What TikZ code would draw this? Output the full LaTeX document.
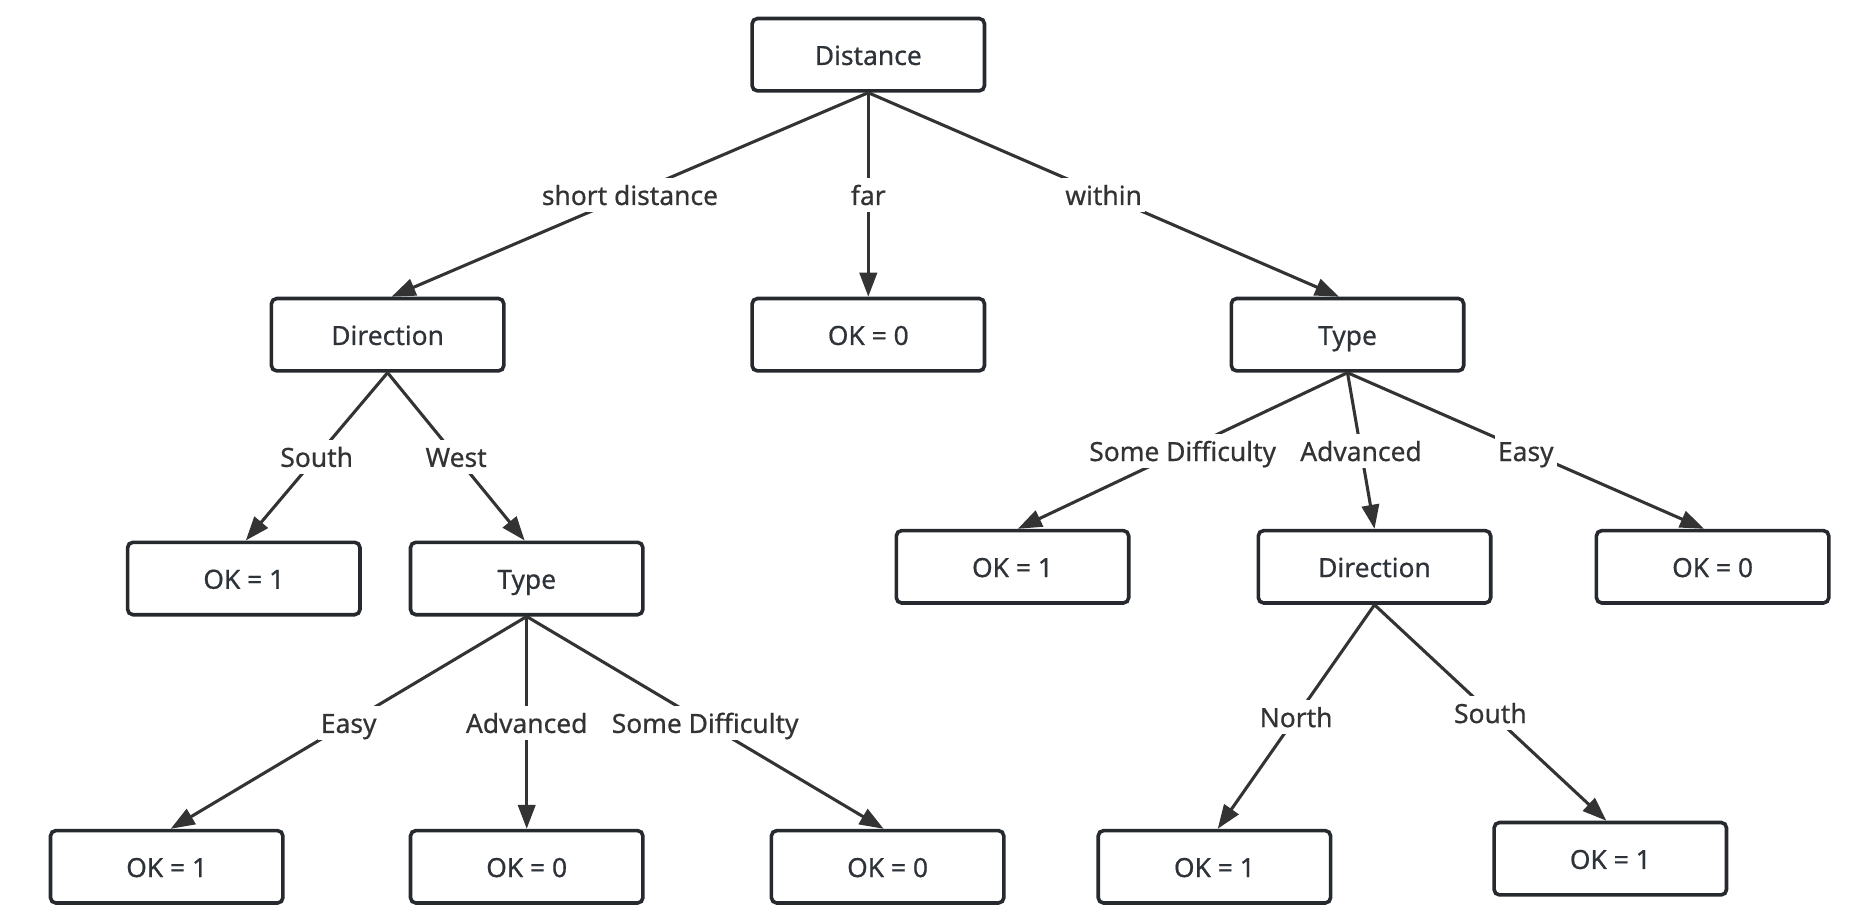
\documentclass[tikz,border=0pt]{standalone}
\usepackage{fontspec}
\setmainfont{Noto Sans}[FakeBold=0.6]
\usetikzlibrary{arrows.meta}
\definecolor{boxline}{HTML}{262A2F}
\definecolor{boxtext}{HTML}{2D3339}
\definecolor{edgecol}{HTML}{333333}
\begin{document}
\begin{tikzpicture}[x=0.75pt,y=-0.75pt,
  box/.style={draw=boxline, line width=2.7pt, rounded corners=4pt,
    minimum width=174.3pt, minimum height=54.3pt, inner sep=0pt,
    text height=18pt, text depth=2.6pt,
    fill=white, text=boxtext, font=\fontsize{19.8}{23}\selectfont},
  edge/.style={draw=edgecol, line width=2.3pt,
    -{Triangle[length=18pt,width=13pt]}},
  lbl/.style={fill=white, text=edgecol, inner sep=2.5pt,
    text height=18pt, text depth=2.6pt,
    font=\fontsize{19.8}{23}\selectfont}]
\useasboundingbox (0,0) rectangle (1860,920);
% row 1
\node[box] (dist) at (868.3,54.7) {Distance};
% row 2
\node[box] (dirL) at (387.6,334.7) {Direction};
\node[box] (far) at (868.3,334.7) {OK = 0};
\node[box] (typeR) at (1347.5,334.7) {Type};
% row 3
\node[box] (okS) at (243.8,578.5) {OK = 1};
\node[box] (typeL) at (526.7,578.5) {Type};
\node[box] (okSDR) at (1012.5,566.8) {OK = 1};
\node[box] (dirR) at (1374.5,566.8) {Direction};
\node[box] (okER) at (1712.6,566.8) {OK = 0};
% row 4
\node[box] (okEL) at (166.7,866.8) {OK = 1};
\node[box] (okAL) at (526.7,866.8) {OK = 0};
\node[box] (okSDL) at (887.6,866.8) {OK = 0};
\node[box] (okN) at (1214.4,866.8) {OK = 1};
\node[box] (okSR) at (1610.3,858.7) {OK = 1};
% edges
\draw[edge] (dist.south) -- ([xshift=3pt]dirL.north) node[lbl,pos=.5] {short distance};
\draw[edge] (dist.south) -- (far.north) node[lbl,pos=.5] {far};
\draw[edge] (dist.south) -- ([xshift=-6.4pt]typeR.north) node[lbl,pos=.5] {within};
\draw[edge] (dirL.south) -- ([xshift=1.5pt]okS.north) node[lbl,pos=.5] {South};
\draw[edge] (dirL.south) -- ([xshift=-1.5pt]typeL.north) node[lbl,pos=.5] {West};
\draw[edge] (typeR.south) -- ([xshift=4pt]okSDR.north) node[lbl,pos=.5] {Some Difficulty};
\draw[edge] (typeR.south) -- (dirR.north) node[lbl,pos=.5] {Advanced};
\draw[edge] (typeR.south) -- ([xshift=-6.4pt]okER.north) node[lbl,pos=.5] {Easy};
\draw[edge] (typeL.south) -- ([xshift=3pt]okEL.north) node[lbl,pos=.5] {Easy};
\draw[edge] (typeL.south) -- (okAL.north) node[lbl,pos=.5] {Advanced};
\draw[edge] (typeL.south) -- ([xshift=-3pt]okSDL.north) node[lbl,pos=.5] {Some Difficulty};
\draw[edge] (dirR.south) -- ([xshift=2.5pt]okN.north) node[lbl,pos=.5] {North};
\draw[edge] (dirR.south) -- ([xshift=-3pt]okSR.north) node[lbl,pos=.5] {South};
\end{tikzpicture}
\end{document}
